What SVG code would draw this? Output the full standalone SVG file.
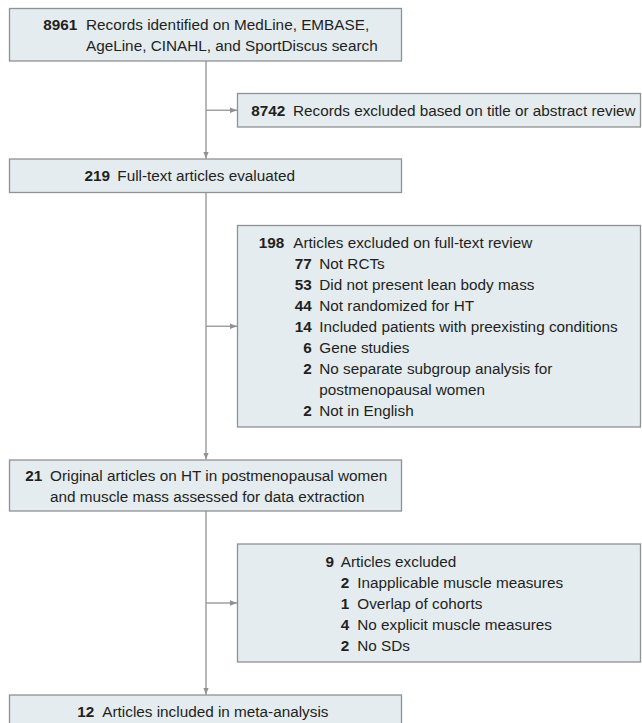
<svg xmlns="http://www.w3.org/2000/svg" width="642" height="723" viewBox="0 0 642 723">
<defs>
<style>
.box{fill:#e4ecf0;stroke:#8f9193;stroke-width:1.3}
.t{font-family:"Liberation Sans",Arial,sans-serif;font-size:15.3px;fill:#231f20}
.n{font-family:"Liberation Sans",Arial,sans-serif;font-size:15.3px;font-weight:bold;fill:#231f20;text-anchor:end}
.c{fill:none;stroke:#9a9a9c;stroke-width:1.4}
</style>
<marker id="ah" viewBox="0 0 10 10" refX="10" refY="5" markerWidth="7" markerHeight="7" markerUnits="userSpaceOnUse" orient="auto">
<path d="M0,1 L10,5 L0,9 Z" fill="#8f9193"/>
</marker>
</defs>
<rect width="642" height="723" fill="#ffffff"/>
<g id="connectors">
<line class="c" x1="206" y1="61" x2="206" y2="158.5" marker-end="url(#ah)"/>
<line class="c" x1="206" y1="110.25" x2="237" y2="110.25" marker-end="url(#ah)"/>
<line class="c" x1="206" y1="192.5" x2="206" y2="459.5" marker-end="url(#ah)"/>
<line class="c" x1="206" y1="326.25" x2="237" y2="326.25" marker-end="url(#ah)"/>
<line class="c" x1="206" y1="511" x2="206" y2="694.5" marker-end="url(#ah)"/>
<line class="c" x1="206" y1="603" x2="237" y2="603" marker-end="url(#ah)"/>
</g>
<g id="n1">
<rect class="box" x="9.5" y="8.5" width="392" height="52.5"/>
<text class="n" x="77.3" y="29.75">8961</text>
<text class="t" x="86" y="29.75">Records identified on MedLine, EMBASE,</text>
<text class="t" x="86" y="50.75">AgeLine, CINAHL, and SportDiscus search</text>
</g>
<g id="n2">
<rect class="box" x="237.5" y="93.5" width="403" height="33.5"/>
<text class="n" x="285.3" y="115.75">8742</text>
<text class="t" x="293" y="115.75">Records excluded based on title or abstract review</text>
</g>
<g id="n3">
<rect class="box" x="9.5" y="159" width="392" height="33.5"/>
<text class="n" x="110" y="181.25">219</text>
<text class="t" x="117.3" y="181.25">Full-text articles evaluated</text>
</g>
<g id="n4">
<rect class="box" x="237.5" y="225.5" width="403" height="201.5"/>
<text class="n" x="284.3" y="248">198</text>
<text class="t" x="293.3" y="248">Articles excluded on full-text review</text>
<text class="n" x="311.7" y="269">77</text>
<text class="t" x="319.3" y="269">Not RCTs</text>
<text class="n" x="311.7" y="290">53</text>
<text class="t" x="319.3" y="290">Did not present lean body mass</text>
<text class="n" x="311.7" y="311">44</text>
<text class="t" x="319.3" y="311">Not randomized for HT</text>
<text class="n" x="311.7" y="332">14</text>
<text class="t" x="319.3" y="332">Included patients with preexisting conditions</text>
<text class="n" x="311.7" y="353">6</text>
<text class="t" x="319.3" y="353">Gene studies</text>
<text class="n" x="311.7" y="374">2</text>
<text class="t" x="319.3" y="374">No separate subgroup analysis for</text>
<text class="t" x="319.3" y="395">postmenopausal women</text>
<text class="n" x="311.7" y="416">2</text>
<text class="t" x="319.3" y="416">Not in English</text>
</g>
<g id="n5">
<rect class="box" x="9.5" y="460" width="392" height="51"/>
<text class="n" x="42.3" y="480.5">21</text>
<text class="t" x="50" y="480.5">Original articles on HT in postmenopausal women</text>
<text class="t" x="50" y="501.5">and muscle mass assessed for data extraction</text>
</g>
<g id="n6">
<rect class="box" x="237.5" y="544" width="403" height="118"/>
<text class="n" x="334" y="566.5">9</text>
<text class="t" x="340.7" y="566.5">Articles excluded</text>
<text class="n" x="349.3" y="587.5">2</text>
<text class="t" x="357.3" y="587.5">Inapplicable muscle measures</text>
<text class="n" x="349.3" y="608.5">1</text>
<text class="t" x="357.3" y="608.5">Overlap of cohorts</text>
<text class="n" x="349.3" y="629.5">4</text>
<text class="t" x="357.3" y="629.5">No explicit muscle measures</text>
<text class="n" x="349.3" y="650.5">2</text>
<text class="t" x="357.3" y="650.5">No SDs</text>
</g>
<g id="n7">
<rect class="box" x="9.5" y="695" width="392" height="40"/>
<text class="n" x="94.3" y="716.7">12</text>
<text class="t" x="102.3" y="716.7">Articles included in meta-analysis</text>
</g>
</svg>
